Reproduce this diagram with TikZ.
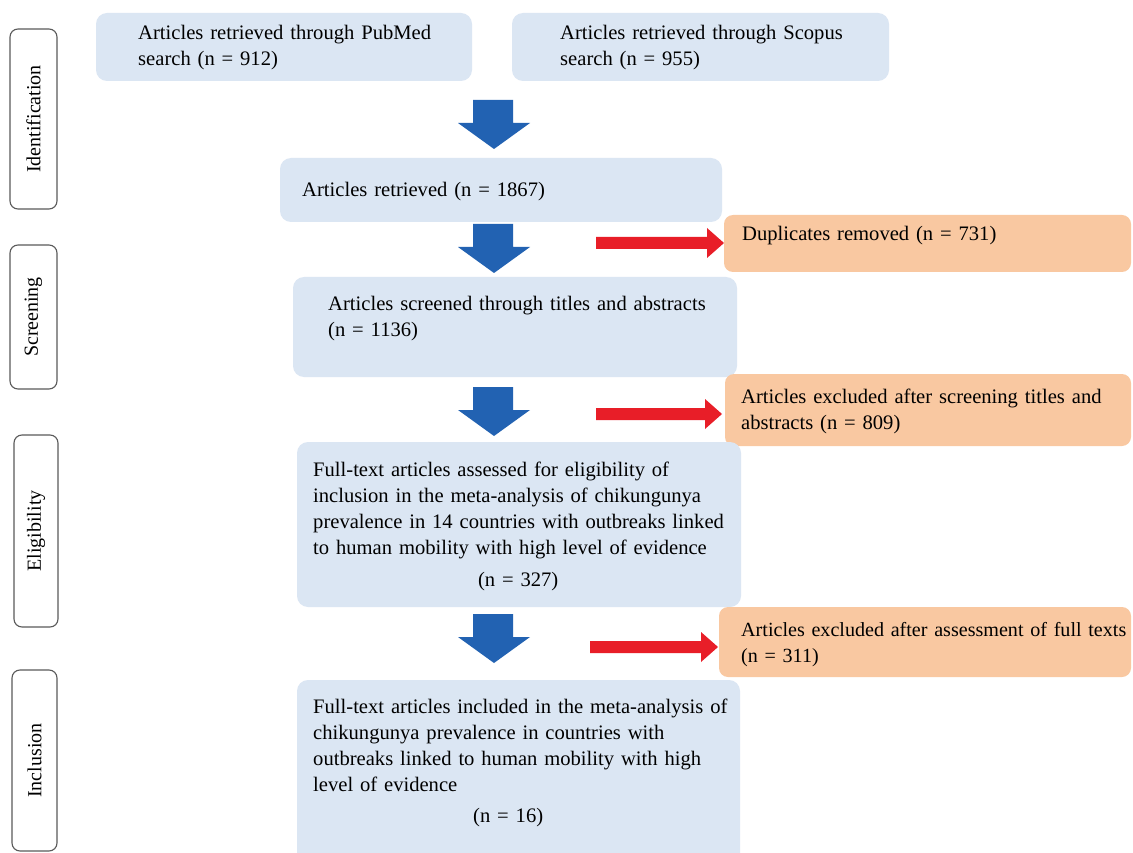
\documentclass[tikz,border=0pt]{standalone}
\usepackage{fontspec}
\setmainfont{Liberation Serif}
\definecolor{boxblue}{HTML}{DBE6F3}
\definecolor{boxorange}{HTML}{F9C8A1}
\definecolor{arrowblue}{HTML}{2262B2}
\definecolor{arrowred}{HTML}{E81E28}
\definecolor{sideline}{HTML}{5A5A5A}
\begin{document}
\begin{tikzpicture}[x=1pt,y=-1pt,
  bluebox/.style={fill=boxblue, draw=none, rounded corners=11pt, inner sep=0pt},
  orangebox/.style={fill=boxorange, draw=none, rounded corners=9pt, inner sep=0pt},
  sidebox/.style={draw=sideline, line width=1.1pt, fill=white, rounded corners=8pt, inner sep=0pt},
  sidetext/.style={rotate=90, inner sep=0pt, font=\fontsize{20}{24}\selectfont},
  txt/.style={anchor=base west, inner sep=0pt, align=left, font=\fontsize{20.6}{26}\selectfont, text width=520pt},
  downarrow/.style={fill=arrowblue},
  rightarrow/.style={fill=arrowred}
]
\clip (0,0) rectangle (1133,853);
\fill[white] (0,0) rectangle (1133,853);

% side stage labels
\node[sidebox, minimum width=47pt, minimum height=180pt] (sId) at (33.5,119) {};
\node[sidetext] (tId) at (sId.center) {Identification};
\node[sidebox, minimum width=47pt, minimum height=144pt] (sSc) at (33.5,317) {};
\node[sidetext] (tSc) at (sSc.center) {Screening};
\node[sidebox, minimum width=44pt, minimum height=192pt] (sEl) at (36,531) {};
\node[sidetext] (tEl) at (sEl.center) {Eligibility};
\node[sidebox, minimum width=45pt, minimum height=181pt] (sIn) at (34.5,760.5) {};
\node[sidetext] (tIn) at (sIn.center) {Inclusion};

% boxes
\node[bluebox, minimum width=376pt, minimum height=68pt] (pub) at (284,47) {};
\node[bluebox, minimum width=377pt, minimum height=68pt] (sco) at (700.5,47) {};
\node[bluebox, minimum width=442pt, minimum height=64pt] (ret) at (501,190) {};
\node[orangebox, minimum width=407pt, minimum height=57pt] (dup) at (927.5,243.5) {};
\node[bluebox, minimum width=444pt, minimum height=100pt] (scr) at (515,327) {};
\node[orangebox, minimum width=406pt, minimum height=72pt] (exs) at (928,410) {};
\node[bluebox, minimum width=444pt, minimum height=165pt] (eli) at (519,524.5) {};
\node[orangebox, minimum width=412pt, minimum height=70pt] (exf) at (925,642) {};
\node[bluebox, minimum width=443pt, minimum height=185pt] (inc) at (518.5,772.5) {};

% texts
\node[txt] (tpub) at (138,40) {Articles retrieved through PubMed\\search (n = 912)};
\node[txt] (tsco) at (560,40) {Articles retrieved through Scopus\\search (n = 955)};
\node[txt] (tret) at (302,197) {Articles retrieved (n = 1867)};
\node[txt] (tdup) at (742,241) {Duplicates removed (n = 731)};
\node[txt] (tscr) at (328,310) {Articles screened through titles and abstracts\\(n = 1136)};
\node[txt] (texs) at (741,403) {Articles excluded after screening titles and\\abstracts (n = 809)};
\node[txt] (teli) at (313,476) {Full-text articles assessed for eligibility of\\inclusion in the meta-analysis of chikungunya\\prevalence in 14 countries with outbreaks linked\\to human mobility with high level of evidence\\[6pt]\makebox[410pt]{(n = 327)}};
\node[txt, font=\fontsize{20.1}{26}\selectfont] (texf) at (741,636) {Articles excluded after assessment of full texts\\(n = 311)};
\node[txt] (tinc) at (313,713) {Full-text articles included in the meta-analysis of\\chikungunya prevalence in countries with\\outbreaks linked to human mobility with high\\level of evidence\\[5pt]\makebox[390pt]{(n = 16)}};

% blue block arrows
\foreach \t in {100,224,387,614}{
  \fill[downarrow] (473,\t) -- (513,\t) -- (513,\t+23) -- (530,\t+23) -- (494,\t+49) -- (458,\t+23) -- (473,\t+23) -- cycle;
}
% red block arrows
\foreach \xa/\xb/\cy in {596/724/243,596/722/414,590/718/647}{
  \fill[rightarrow] (\xa,\cy-6) -- (\xb-17,\cy-6) -- (\xb-17,\cy-15) -- (\xb,\cy) -- (\xb-17,\cy+15) -- (\xb-17,\cy+6) -- (\xa,\cy+6) -- cycle;
}
\end{tikzpicture}
\end{document}
